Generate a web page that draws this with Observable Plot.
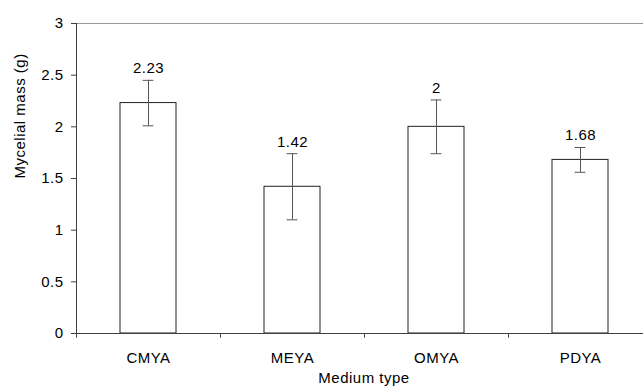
<!DOCTYPE html>
<html><head><meta charset="utf-8">
<script src="https://cdn.jsdelivr.net/npm/d3@7"></script>
<script src="https://cdn.jsdelivr.net/npm/@observablehq/plot@0.6"></script>
<style>html,body{margin:0;padding:0;background:#fff}</style>
</head><body><div id="chart"></div>
<script>
const categories = ["CMYA", "MEYA", "OMYA", "PDYA"];
const means = [2.23, 1.42, 2.00, 1.68];
const errors = [0.22, 0.32, 0.26, 0.12];
const yTicks = [0, 0.5, 1, 1.5, 2, 2.5, 3];
const xTitle = "Medium type";
const yTitle = "Mycelial mass (g)";

const data = categories.map((c, i) => ({cat: c, mean: means[i], lo: means[i] - errors[i], hi: means[i] + errors[i]}));

const W = 643, H = 387;
const left = 76, right = 652;
const step = (right - left) / categories.length;
const bandFrac = 0.39;
const capW = 11;
const capInset = (step * bandFrac - capW) / 2;
const axisColor = "#404040";

const chart = Plot.plot({
  width: W, height: H,
  marginTop: 23, marginBottom: 54, marginLeft: left, marginRight: 0,
  style: {fontFamily: "'Liberation Sans', Arial, sans-serif", fontSize: "15px", letterSpacing: "0.5px", background: "#fff", color: "#000"},
  x: {domain: categories, range: [left, right], paddingInner: 1 - bandFrac, paddingOuter: (1 - bandFrac) / 2},
  y: {domain: [0, 3]},
  marks: [
    Plot.ruleY([3], {stroke: "#999"}),
    Plot.barY(data, {x: "cat", y: "mean", fill: "white", stroke: "#222", strokeWidth: 1}),
    Plot.ruleX(data, {x: "cat", y1: "lo", y2: "hi", stroke: "#555"}),
    Plot.tickY(data, {x: "cat", y: "lo", stroke: "#555", insetLeft: capInset, insetRight: capInset}),
    Plot.tickY(data, {x: "cat", y: "hi", stroke: "#555", insetLeft: capInset, insetRight: capInset}),
    Plot.text(data, {x: "cat", y: "hi", text: d => String(d.mean), dy: -12, fill: "#000"}),
    Plot.ruleY([0], {stroke: axisColor}),
    Plot.ruleX([categories[0]], {x: d => d, y1: 0, y2: 3, dx: -step / 2, stroke: axisColor}),
    Plot.ruleX(categories, {x: d => d, y1: 0, y2: -0.045, dx: -step / 2, stroke: axisColor}),
    Plot.axisY({ticks: yTicks, tickFormat: d => String(d), tickSize: 5, tickPadding: 8, stroke: axisColor, fill: "#000", label: null}),
    Plot.axisX({tickSize: 0, tickPadding: 19, fill: "#000", label: null}),
    Plot.text([xTitle], {frameAnchor: "bottom", dx: 4, dy: 49, text: d => d, fill: "#000"}),
    Plot.text([yTitle], {frameAnchor: "left", rotate: -90, dx: -56, text: d => d, fill: "#000"})
  ]
});
document.getElementById("chart").appendChild(chart);
</script>
</body></html>
